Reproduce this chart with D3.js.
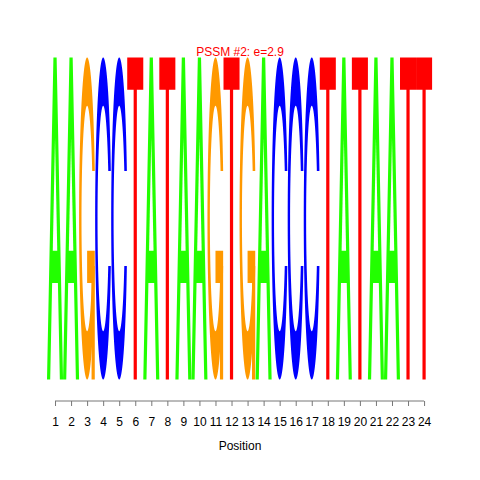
<!DOCTYPE html>
<html>
<head>
<meta charset="utf-8">
<script src="https://cdn.jsdelivr.net/npm/d3@7"></script>
<style>
  html, body { margin: 0; padding: 0; background: #fff; }
  text { font-family: "Liberation Sans", Arial, sans-serif; }
</style>
</head>
<body>
<div id="chart"></div>
<script>
// Posições do motivo e a letra dominante em cada uma
const positions = d3.range(1, 25);
const sequence = ["A","A","G","C","C","T","A","T","A","A","G","T",
                  "G","A","C","C","C","T","A","T","A","A","T","T"];
// Probabilidade (altura) de cada letra na coluna
const probs = [1,1,1,1,1,1,1,1,1,1,1,1,1,1,1,1,1,1,1,1,1,1,1,1];
const bases = ["A", "C", "G", "T"];
const baseColors = ["#22ff00", "#0000ff", "#ff9900", "#ff0000"];
const title = "PSSM #2: e=2.9";
const xLabel = "Position";

const width = 480, height = 480;

const svg = d3.select("#chart").append("svg")
    .attr("width", width)
    .attr("height", height);

// Escalas: cada posição ocupa uma unidade em x, altura total 1 em y
const x = d3.scaleLinear().domain([0, positions.length]).range([47, 432.1]);
const y = d3.scaleLinear().domain([0, 1]).range([379.5, 57.5]);
const color = d3.scaleOrdinal().domain(bases).range(baseColors);

// Formas das letras em coordenadas unitárias (estilo seqLogo)
function ringParts() {
  const n = 100;
  const a1 = d3.range(n).map(i => 0.3 + Math.PI / 2 + i * (Math.PI / 2 - 0.3) / (n - 1));
  const a2 = d3.range(n).map(i => Math.PI + i * (Math.PI / 2) / (n - 1));
  const xl1 = a1.map(a => 0.5 + 0.5 * Math.sin(a)), yl1 = a1.map(a => 0.5 + 0.5 * Math.cos(a));
  const xl2 = a2.map(a => 0.5 + 0.5 * Math.sin(a)), yl2 = a2.map(a => 0.5 + 0.5 * Math.cos(a));
  const xl = xl1.concat(xl2), yl = yl1.concat(yl2);
  const xo = xl.concat(xl.slice().reverse());
  const yo = yl.concat(yl.slice().reverse().map(v => 1 - v));
  const h = d3.max(yl1);
  let xi1 = a1.map(a => 0.5 + 0.35 * Math.sin(a)), yi1 = a1.map(a => 0.5 + 0.35 * Math.cos(a));
  const keep = yi1.map(v => v <= h);
  xi1 = xi1.filter((v, i) => keep[i]);
  yi1 = yi1.filter((v, i) => keep[i]);
  yi1[0] = h;
  const xi2 = a2.map(a => 0.5 + 0.35 * Math.sin(a)), yi2 = a2.map(a => 0.5 + 0.35 * Math.cos(a));
  const xi = xi1.concat(xi2), yi = yi1.concat(yi2);
  const x1 = xi.concat(xi.slice().reverse());
  const y1 = yi.concat(yi.slice().reverse().map(v => 1 - v));
  const xs = xo.concat(x1.slice().reverse());
  const ys = yo.concat(y1.slice().reverse());
  return { pts: xs.map((v, i) => [v, ys[i]]), r1: d3.max(xl1) };
}

const ring = ringParts();
const shapes = {
  A: [
    { pts: [[0,0],[4,10],[6,10],[10,0],[8,0],[6.8,3],[3.2,3],[2,0],[0,0]].map(p => [p[0] / 10, p[1] / 10]) },
    { pts: [[3.6,4],[5,7.5],[6.4,4],[3.6,4]].map(p => [p[0] / 10, p[1] / 10]), fill: "#ffffff" }
  ],
  C: [ { pts: ring.pts } ],
  G: [
    { pts: ring.pts },
    { pts: [[ring.r1,0.4],[0.5,0.4],[0.5,0.3],[ring.r1-0.2,0.3],[ring.r1-0.2,0],[ring.r1,0],[ring.r1,0.4]] }
  ],
  T: [ { pts: [[0,1],[1,1],[1,0.9],[0.6,0.9],[0.6,0],[0.4,0],[0.4,0.9],[0,0.9]] } ]
};

const cols = positions.map((p, i) => ({ pos: p, base: sequence[i], h: probs[i], j: i }));

const line = d3.line();
const gLetters = svg.append("g");
cols.forEach(c => {
  shapes[c.base].forEach(part => {
    gLetters.append("path")
      .attr("d", line(part.pts.map(q => [x(c.j + q[0]), y(q[1] * c.h)])) + "Z")
      .attr("fill", part.fill || color(c.base))
      .attr("stroke", "none");
  });
});

// Eixo x com rótulos das posições
const axisY = 401;
const xAxis = d3.axisBottom(x)
    .tickValues(positions.map(p => p - 0.5))
    .tickFormat((d, i) => positions[i])
    .tickSize(5)
    .tickSizeOuter(0)
    .tickPadding(11);

const gAxis = svg.append("g")
    .attr("transform", `translate(0,${axisY})`)
    .call(xAxis);
gAxis.select(".domain").remove();
gAxis.append("line")
    .attr("x1", x(0.5)).attr("x2", x(positions.length - 0.5))
    .attr("y1", 0).attr("y2", 0)
    .attr("stroke", "#777");
gAxis.selectAll(".tick line").attr("stroke", "#777");
gAxis.selectAll(".tick text")
    .attr("fill", "#000")
    .style("font-size", "12px")
    .style("font-family", "'Liberation Sans', Arial, sans-serif");

svg.append("text")
    .attr("x", 240).attr("y", 450)
    .attr("text-anchor", "middle")
    .style("font-size", "12px")
    .text(xLabel);

svg.append("text")
    .attr("x", 240).attr("y", 56)
    .attr("text-anchor", "middle")
    .attr("fill", "#ff0000")
    .style("font-size", "12px")
    .text(title);
</script>
</body>
</html>
